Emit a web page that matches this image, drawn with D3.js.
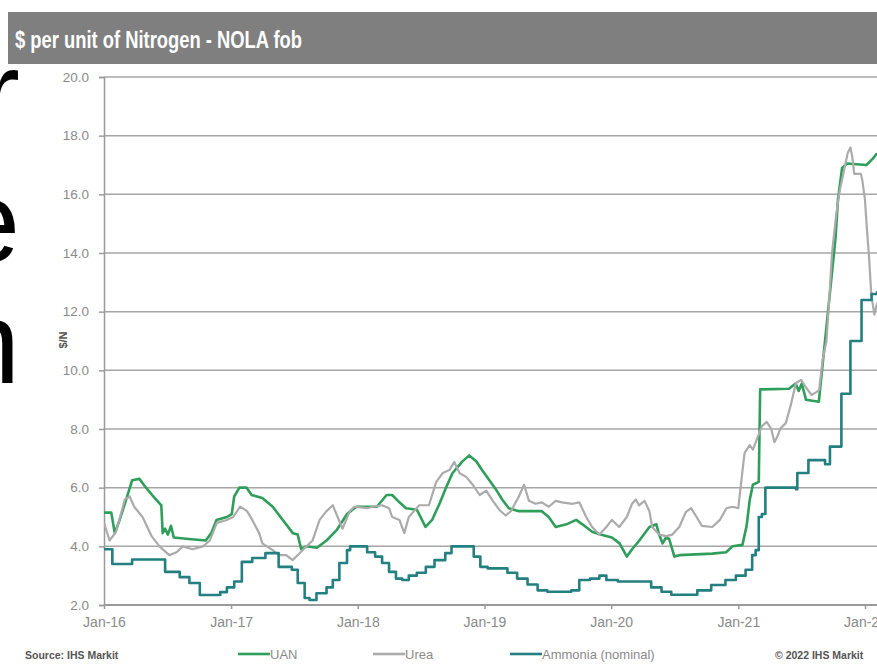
<!DOCTYPE html>
<html>
<head>
<meta charset="utf-8">
<script src="https://cdn.jsdelivr.net/npm/d3@7"></script>
<style>
  body { margin: 0; background: #fff; }
  svg { display: block; font-family: "Liberation Sans", Arial, sans-serif; }
</style>
</head>
<body>
<div id="chart"></div>
<script>
var yTicks = [2, 4, 6, 8, 10, 12, 14, 16, 18, 20];
var xTicks = ["2016-01-01", "2017-01-01", "2018-01-01", "2019-01-01", "2020-01-01", "2021-01-01", "2022-01-01"];
var seriesNames = ["UAN", "Urea", "Ammonia (nominal)"];

var uan = [["2016-01-01",5.15],["2016-01-22",5.15],["2016-02-01",4.45],["2016-02-15",4.9],["2016-03-05",5.6],["2016-03-22",6.25],["2016-04-12",6.3],["2016-05-01",6.0],["2016-05-22",5.7],["2016-06-14",5.4],["2016-06-18",4.45],["2016-06-25",4.6],["2016-07-03",4.4],["2016-07-12",4.7],["2016-07-20",4.3],["2016-09-01",4.25],["2016-10-20",4.2],["2016-11-05",4.45],["2016-11-20",4.9],["2016-12-20",5.0],["2017-01-03",5.1],["2017-01-10",5.7],["2017-01-25",6.0],["2017-02-15",6.0],["2017-03-01",5.75],["2017-04-01",5.65],["2017-05-01",5.35],["2017-05-30",4.9],["2017-06-28",4.45],["2017-07-12",4.4],["2017-07-22",3.9],["2017-08-05",4.0],["2017-09-05",3.95],["2017-10-03",4.2],["2017-11-01",4.55],["2017-12-01",5.1],["2017-12-28",5.35],["2018-02-25",5.35],["2018-03-25",5.75],["2018-04-10",5.75],["2018-05-01",5.5],["2018-05-20",5.3],["2018-06-20",5.25],["2018-07-05",4.9],["2018-07-15",4.66],["2018-08-03",4.9],["2018-08-25",5.47],["2018-09-12",6.0],["2018-10-01",6.5],["2018-10-28",6.88],["2018-11-18",7.1],["2018-12-08",6.9],["2018-12-25",6.6],["2019-01-15",6.25],["2019-02-05",5.9],["2019-02-22",5.58],["2019-03-12",5.3],["2019-04-10",5.2],["2019-06-15",5.2],["2019-07-05",5.0],["2019-07-25",4.66],["2019-08-25",4.75],["2019-09-22",4.9],["2019-10-10",4.75],["2019-11-07",4.5],["2019-12-01",4.4],["2020-01-03",4.3],["2020-01-25",4.1],["2020-02-15",3.65],["2020-03-01",3.9],["2020-03-22",4.2],["2020-04-20",4.66],["2020-05-10",4.75],["2020-05-18",4.4],["2020-05-28",4.1],["2020-06-07",4.3],["2020-06-16",4.25],["2020-07-01",3.65],["2020-07-15",3.7],["2020-10-18",3.75],["2020-11-27",3.8],["2020-12-15",4.0],["2021-01-13",4.05],["2021-01-25",4.7],["2021-02-03",5.58],["2021-02-12",6.1],["2021-03-01",6.2],["2021-03-05",9.35],["2021-05-27",9.37],["2021-06-15",9.55],["2021-06-24",9.3],["2021-07-03",9.55],["2021-07-15",9.0],["2021-08-21",8.93],["2021-10-08",14.5],["2021-10-15",15.8],["2021-10-27",16.9],["2021-11-10",17.05],["2022-01-05",17.0],["2022-01-22",17.2],["2022-02-05",17.4]];

var urea = [["2016-01-01",4.8],["2016-01-17",4.2],["2016-02-05",4.5],["2016-03-01",5.6],["2016-03-15",5.7],["2016-03-28",5.35],["2016-04-21",5.0],["2016-05-18",4.33],["2016-06-09",4.0],["2016-07-07",3.7],["2016-07-28",3.8],["2016-08-15",4.0],["2016-09-12",3.9],["2016-10-12",4.0],["2016-11-01",4.2],["2016-11-21",4.8],["2016-12-19",4.9],["2017-01-07",5.0],["2017-01-27",5.35],["2017-02-16",5.2],["2017-03-03",4.9],["2017-03-23",4.45],["2017-04-01",4.1],["2017-05-01",3.87],["2017-05-19",3.7],["2017-06-09",3.7],["2017-06-27",3.53],["2017-07-16",3.75],["2017-08-06",4.0],["2017-08-24",4.2],["2017-09-13",4.9],["2017-10-03",5.2],["2017-10-21",5.4],["2017-11-04",5.0],["2017-11-18",4.6],["2017-12-09",5.2],["2017-12-22",5.35],["2018-01-28",5.3],["2018-02-13",5.35],["2018-03-12",5.4],["2018-04-01",5.3],["2018-04-10",5.0],["2018-05-01",4.9],["2018-05-15",4.45],["2018-05-28",5.0],["2018-06-12",5.2],["2018-06-27",5.4],["2018-07-25",5.4],["2018-08-15",6.2],["2018-09-03",6.5],["2018-09-22",6.6],["2018-10-06",6.88],["2018-10-21",6.5],["2018-11-10",6.36],["2018-11-28",6.1],["2018-12-18",5.75],["2019-01-06",5.9],["2019-01-25",5.55],["2019-02-13",5.24],["2019-03-03",5.05],["2019-03-18",5.2],["2019-04-10",5.7],["2019-04-25",6.1],["2019-05-09",5.55],["2019-05-28",5.45],["2019-06-15",5.5],["2019-07-05",5.35],["2019-07-25",5.55],["2019-08-12",5.5],["2019-09-12",5.45],["2019-10-01",5.5],["2019-10-21",5.0],["2019-11-07",4.66],["2019-11-28",4.4],["2019-12-18",4.66],["2020-01-03",4.9],["2020-01-24",4.66],["2020-02-15",5.0],["2020-03-01",5.45],["2020-03-12",5.6],["2020-03-21",5.4],["2020-04-06",5.55],["2020-04-20",5.2],["2020-04-28",4.66],["2020-05-18",4.4],["2020-06-07",4.35],["2020-06-25",4.4],["2020-07-15",4.66],["2020-08-03",5.17],["2020-08-18",5.3],["2020-09-03",5.0],["2020-09-18",4.7],["2020-10-18",4.66],["2020-11-09",4.9],["2020-11-28",5.3],["2020-12-15",5.35],["2021-01-01",5.3],["2021-01-10",6.26],["2021-01-19",7.18],["2021-02-03",7.45],["2021-02-12",7.3],["2021-02-25",7.7],["2021-03-10",8.1],["2021-03-24",8.24],["2021-04-06",8.0],["2021-04-15",7.55],["2021-04-22",7.7],["2021-05-03",8.03],["2021-05-18",8.2],["2021-06-03",8.9],["2021-06-16",9.57],["2021-07-01",9.67],["2021-07-16",9.4],["2021-07-31",9.16],["2021-08-13",9.25],["2021-08-22",9.33],["2021-09-01",10.35],["2021-09-12",11.0],["2021-09-21",12.6],["2021-09-28",14.0],["2021-10-10",15.3],["2021-10-19",16.05],["2021-11-03",16.9],["2021-11-12",17.4],["2021-11-20",17.6],["2021-11-25",17.3],["2021-12-01",16.7],["2021-12-20",16.7],["2021-12-24",16.5],["2022-01-01",15.8],["2022-01-06",14.9],["2022-01-13",13.8],["2022-01-19",12.6],["2022-01-28",11.9],["2022-02-05",12.3]];

var ammonia = [["2016-01-01",3.9],["2016-01-25",3.4],["2016-03-22",3.55],["2016-06-25",3.13],["2016-08-06",2.95],["2016-09-03",2.75],["2016-10-03",2.34],["2016-12-01",2.44],["2016-12-20",2.6],["2017-01-10",2.8],["2017-02-01",3.47],["2017-03-03",3.6],["2017-04-10",3.77],["2017-05-18",3.3],["2017-06-25",3.2],["2017-07-12",2.75],["2017-08-01",2.24],["2017-08-15",2.17],["2017-09-04",2.4],["2017-10-03",2.6],["2017-10-21",2.85],["2017-11-09",3.43],["2017-12-01",3.87],["2017-12-10",4.0],["2018-01-28",3.8],["2018-02-20",3.65],["2018-03-12",3.43],["2018-04-01",3.13],["2018-04-21",2.9],["2018-05-09",2.85],["2018-05-28",3.0],["2018-06-20",3.1],["2018-07-16",3.3],["2018-08-10",3.53],["2018-09-10",3.77],["2018-09-28",4.0],["2018-12-01",3.65],["2018-12-20",3.3],["2019-01-10",3.25],["2019-03-08",3.1],["2019-04-05",2.9],["2019-05-05",2.7],["2019-06-03",2.5],["2019-07-01",2.45],["2019-09-08",2.5],["2019-10-01",2.85],["2019-11-01",2.9],["2019-11-28",3.0],["2019-12-18",2.85],["2020-01-20",2.8],["2020-04-25",2.6],["2020-05-25",2.45],["2020-06-22",2.35],["2020-09-05",2.5],["2020-10-15",2.68],["2020-11-25",2.85],["2020-12-25",3.0],["2021-01-22",3.2],["2021-02-10",3.7],["2021-02-20",3.87],["2021-03-01",5.0],["2021-03-10",5.1],["2021-03-20",6.0],["2021-06-16",5.95],["2021-06-20",6.5],["2021-07-22",6.94],["2021-09-08",6.8],["2021-09-22",7.4],["2021-10-25",9.2],["2021-11-20",11.0],["2021-12-22",12.4],["2022-01-20",12.6],["2022-02-05",12.7]];

var width = 877, height = 664;
var parse = d3.timeParse("%Y-%m-%d");
var fmtY = d3.format(".1f");
var fmtX = d3.timeFormat("%b-%y");

var x = d3.scaleTime()
  .domain([parse("2016-01-01"), parse("2022-01-01")])
  .range([104, 865]);
var y = d3.scaleLinear()
  .domain([2, 20])
  .range([605, 77]);

var svg = d3.select("#chart").append("svg")
  .attr("width", width)
  .attr("height", height);

svg.append("rect")
  .attr("width", width).attr("height", height)
  .attr("fill", "#fff");

// title bar
svg.append("rect")
  .attr("x", 8).attr("y", 12)
  .attr("width", width).attr("height", 52)
  .attr("fill", "#7f7f7f");
svg.append("text")
  .attr("x", 15).attr("y", 48)
  .attr("fill", "#fff")
  .attr("font-size", 24)
  .attr("font-weight", "bold")
  .attr("textLength", 287)
  .attr("lengthAdjust", "spacingAndGlyphs")
  .text("$ per unit of Nitrogen - NOLA fob");

// big letters from the slide behind
svg.selectAll("text.bg")
  .data([["r", 133], ["e", 262], ["n", 383]])
  .enter().append("text")
  .attr("class", "bg")
  .attr("x", 20)
  .attr("y", d => d[1])
  .attr("text-anchor", "end")
  .attr("font-size", 116)
  .attr("fill", "#000")
  .text(d => d[0]);

// grid
svg.append("g")
  .selectAll("line")
  .data(yTicks.slice(1))
  .enter().append("line")
  .attr("x1", 104).attr("x2", width)
  .attr("y1", d => y(d)).attr("y2", d => y(d))
  .attr("stroke", "#a6a6a6")
  .attr("stroke-width", 1.5);

// y axis
var yAxis = d3.axisLeft(y)
  .tickValues(yTicks)
  .tickFormat(fmtY)
  .tickSize(5)
  .tickPadding(10);
var gy = svg.append("g")
  .attr("transform", "translate(104,0)")
  .call(yAxis);
gy.select(".domain").attr("stroke", "#9a9a9a").attr("stroke-width", 1.5);
gy.selectAll(".tick line").attr("stroke", "#9a9a9a").attr("stroke-width", 1.5);
gy.selectAll("text")
  .attr("font-size", 13.5)
  .attr("font-family", "Liberation Sans, Arial, sans-serif")
  .attr("fill", "#8a8a8a");

// x axis
var xAxis = d3.axisBottom(x)
  .tickValues(xTicks.map(parse))
  .tickFormat(fmtX)
  .tickSize(4)
  .tickPadding(8);
var gx = svg.append("g")
  .attr("transform", "translate(0,605)")
  .call(xAxis);
gx.select(".domain").attr("d", "M104,0H" + width).attr("stroke", "#9a9a9a").attr("stroke-width", 2);
gx.selectAll(".tick line").attr("stroke", "#9a9a9a").attr("stroke-width", 1.5);
gx.selectAll("text")
  .attr("font-size", 14)
  .attr("font-family", "Liberation Sans, Arial, sans-serif")
  .attr("fill", "#8a8a8a");

svg.append("text")
  .attr("transform", "translate(67,340) rotate(-90)")
  .attr("text-anchor", "middle")
  .attr("font-size", 11)
  .attr("font-weight", "bold")
  .attr("fill", "#555")
  .text("$/N");

// lines
svg.append("clipPath").attr("id", "plot")
  .append("rect").attr("x", 104).attr("y", 60).attr("width", width - 104).attr("height", 560);

var series = [
  {name: seriesNames[0], data: uan, color: "#2f9e5a", w: 2.6, curve: d3.curveLinear},
  {name: seriesNames[1], data: urea, color: "#ababab", w: 2.2, curve: d3.curveLinear},
  {name: seriesNames[2], data: ammonia, color: "#237f80", w: 2.6, curve: d3.curveStepAfter}
];

var plot = svg.append("g").attr("clip-path", "url(#plot)");
series.forEach(function(s){
  var line = d3.line()
    .x(d => x(parse(d[0])))
    .y(d => y(d[1]))
    .curve(s.curve);
  plot.append("path")
    .attr("d", line(s.data))
    .attr("fill", "none")
    .attr("stroke", s.color)
    .attr("stroke-width", s.w)
    .attr("stroke-linejoin", "round");
});

// legend / footer
svg.append("text")
  .attr("x", 25).attr("y", 659)
  .attr("font-size", 10.5)
  .attr("font-weight", "bold")
  .attr("fill", "#555")
  .text("Source: IHS Markit");

var legendX = [238, 373, 510];
var leg = svg.selectAll("g.legend")
  .data(series)
  .enter().append("g")
  .attr("class", "legend")
  .attr("transform", (d, i) => "translate(" + legendX[i] + ",654)");
leg.append("line")
  .attr("x1", 0).attr("x2", 32)
  .attr("stroke", d => d.color)
  .attr("stroke-width", 2.6);
leg.append("text")
  .attr("x", 32).attr("y", 5)
  .attr("font-size", 13)
  .attr("fill", "#8a8a8a")
  .text(d => d.name);

svg.append("text")
  .attr("x", 775).attr("y", 659)
  .attr("font-size", 10.5)
  .attr("font-weight", "bold")
  .attr("fill", "#555")
  .text("\u00a9 2022 IHS Markit");
</script>
</body>
</html>
